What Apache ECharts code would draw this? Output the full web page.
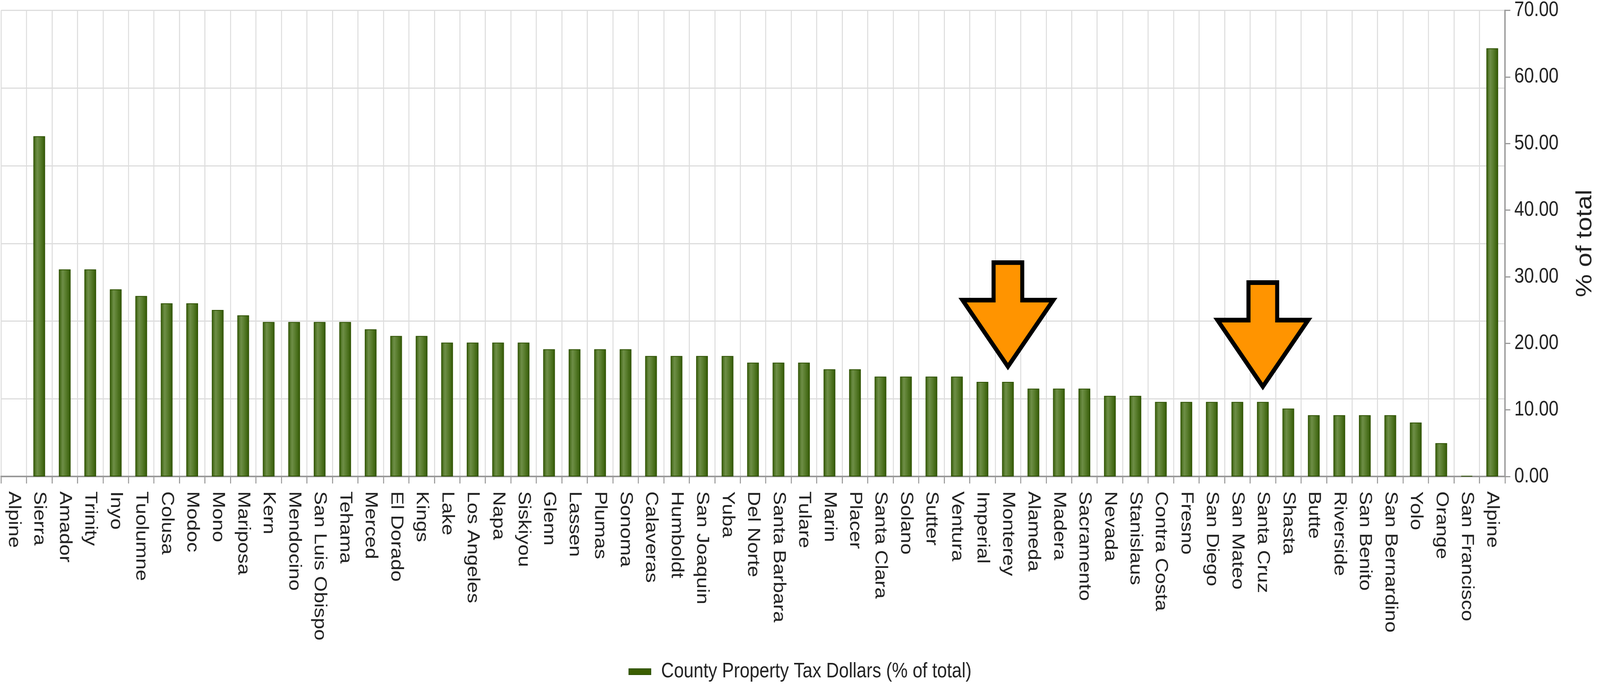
<!DOCTYPE html>
<html>
<head>
<meta charset="utf-8">
<script src="https://cdn.jsdelivr.net/npm/echarts@6/dist/echarts.min.js"></script>
<style>
  html, body { margin: 0; padding: 0; background: #fff; overflow: hidden; }
  #chart { width: 4799px; height: 1750px; transform-origin: 0 0; }
</style>
</head>
<body>
<div id="chart"></div>
<script>
const categories = [
  'Alpine', 'Sierra', 'Amador', 'Trinity', 'Inyo', 'Tuolumne', 'Colusa', 'Modoc', 'Mono', 'Mariposa',
  'Kern', 'Mendocino', 'San Luis Obispo', 'Tehama', 'Merced', 'El Dorado', 'Kings', 'Lake', 'Los Angeles', 'Napa',
  'Siskiyou', 'Glenn', 'Lassen', 'Plumas', 'Sonoma', 'Calaveras', 'Humboldt', 'San Joaquin', 'Yuba', 'Del Norte',
  'Santa Barbara', 'Tulare', 'Marin', 'Placer', 'Santa Clara', 'Solano', 'Sutter', 'Ventura', 'Imperial', 'Monterey',
  'Alameda', 'Madera', 'Sacramento', 'Nevada', 'Stanislaus', 'Contra Costa', 'Fresno', 'San Diego', 'San Mateo', 'Santa Cruz',
  'Shasta', 'Butte', 'Riverside', 'San Benito', 'San Bernardino', 'Yolo', 'Orange', 'San Francisco', 'Alpine'
];
const taxShare = [
  0, 51.1, 31.1, 31.1, 28.1, 27.1, 26.0, 26.0, 25.0, 24.2,
  23.2, 23.2, 23.2, 23.2, 22.1, 21.1, 21.1, 20.1, 20.1, 20.1,
  20.1, 19.1, 19.1, 19.1, 19.1, 18.1, 18.1, 18.1, 18.1, 17.1,
  17.1, 17.1, 16.1, 16.1, 15.0, 15.0, 15.0, 15.0, 14.2, 14.2,
  13.2, 13.2, 13.2, 12.1, 12.1, 11.2, 11.2, 11.2, 11.2, 11.2,
  10.2, 9.2, 9.2, 9.2, 9.2, 8.1, 5.0, 0.1, 64.3
];
const seriesName = 'County Property Tax Dollars (% of total)';
const axisName = '% of total';
const highlighted = ['Monterey', 'Santa Cruz'];
const valueMin = 0, valueMax = 70, valueStep = 10;
const gridDivisions = 6;
const arrowGap = 2.3;

const FONT = "'Liberation Sans', Arial, Helvetica, sans-serif";
const DESIGN_W = 4799;

// The page is laid out for a 4799px-wide canvas; fit it to the actual viewport width.
const el = document.getElementById('chart');
const k = (window.innerWidth || DESIGN_W) / DESIGN_W;
if (Math.abs(k - 1) > 0.001) el.style.transform = 'scaleX(' + k + ')';

const arrowMarks = highlighted.map(name => {
  const idx = categories.lastIndexOf(name);
  return { coord: [idx, taxShare[idx] + arrowGap] };
});

const barData = taxShare.map(v => v === 0 ? { value: v, itemStyle: { borderWidth: 0, opacity: 0 } } : v);

const chart = echarts.init(el, null, { renderer: 'canvas', width: DESIGN_W, height: 1750 });
chart.setOption({
  animation: false,
  backgroundColor: '#ffffff',
  grid: { left: 3, right: 285, top: 25, bottom: 531, containLabel: false },
  legend: {
    left: 'center',
    top: 1687,
    icon: 'rect',
    itemWidth: 66,
    itemHeight: 15,
    data: [{ name: seriesName, itemStyle: { color: '#3b5e00' } }],
    textStyle: { fontFamily: FONT, fontSize: 53, color: '#222', padding: [0, 0, 0, 26] }
  },
  xAxis: {
    type: 'category',
    data: categories,
    boundaryGap: true,
    axisLine: { show: true, lineStyle: { color: '#999', width: 4 } },
    axisTick: { show: true, interval: 0, length: 18, lineStyle: { color: '#999', width: 3 } },
    splitLine: { show: true, interval: 0, lineStyle: { color: '#dddddd', width: 3 } },
    axisLabel: {
      interval: 0, rotate: -90, margin: 38,
      padding: [20, 0, 0, 0],
      fontFamily: FONT, fontSize: 52, color: '#222'
    }
  },
  yAxis: [
    {
      type: 'value',
      position: 'right',
      min: valueMin, max: valueMax, interval: valueStep,
      name: axisName,
      nameLocation: 'middle',
      nameRotate: 90,
      nameGap: 208,
      nameTextStyle: { fontFamily: FONT, fontSize: 66, color: '#222' },
      axisLine: { show: true, lineStyle: { color: '#999', width: 4 } },
      axisTick: { show: true, length: 16, lineStyle: { color: '#999', width: 3 } },
      splitLine: { show: false },
      axisLabel: {
        margin: 28, fontFamily: FONT, fontSize: 53, color: '#222',
        formatter: v => v.toFixed(2)
      }
    },
    {
      type: 'value',
      position: 'left',
      min: 0, max: gridDivisions, interval: 1,
      axisLine: { show: false }, axisTick: { show: false }, axisLabel: { show: false },
      splitLine: { show: true, lineStyle: { color: '#dddddd', width: 3 } }
    }
  ],
  series: [{
    name: seriesName,
    type: 'bar',
    yAxisIndex: 0,
    data: barData,
    barWidth: '46%',
    itemStyle: {
      color: {
        type: 'linear', x: 0, y: 0, x2: 1, y2: 0,
        colorStops: [
          { offset: 0, color: '#2f5300' },
          { offset: 0.12, color: '#4b7020' },
          { offset: 0.32, color: '#6f8f48' },
          { offset: 0.6, color: '#587c2c' },
          { offset: 0.88, color: '#3e6410' },
          { offset: 1, color: '#2f5300' }
        ]
      },
      borderColor: '#2d5000',
      borderWidth: 2
    },
    markPoint: {
      silent: true,
      symbol: 'path://M-43,0 L43,0 L43,96 L136,96 L0,266 L-136,96 L-43,96 Z',
      symbolSize: [272, 266],
      symbolOffset: [0, '-50%'],
      symbolKeepAspect: false,
      label: { show: false },
      itemStyle: { color: '#ff9400', borderColor: '#000000', borderWidth: 12, borderJoin: 'miter' },
      data: arrowMarks
    }
  }]
});
</script>
</body>
</html>
